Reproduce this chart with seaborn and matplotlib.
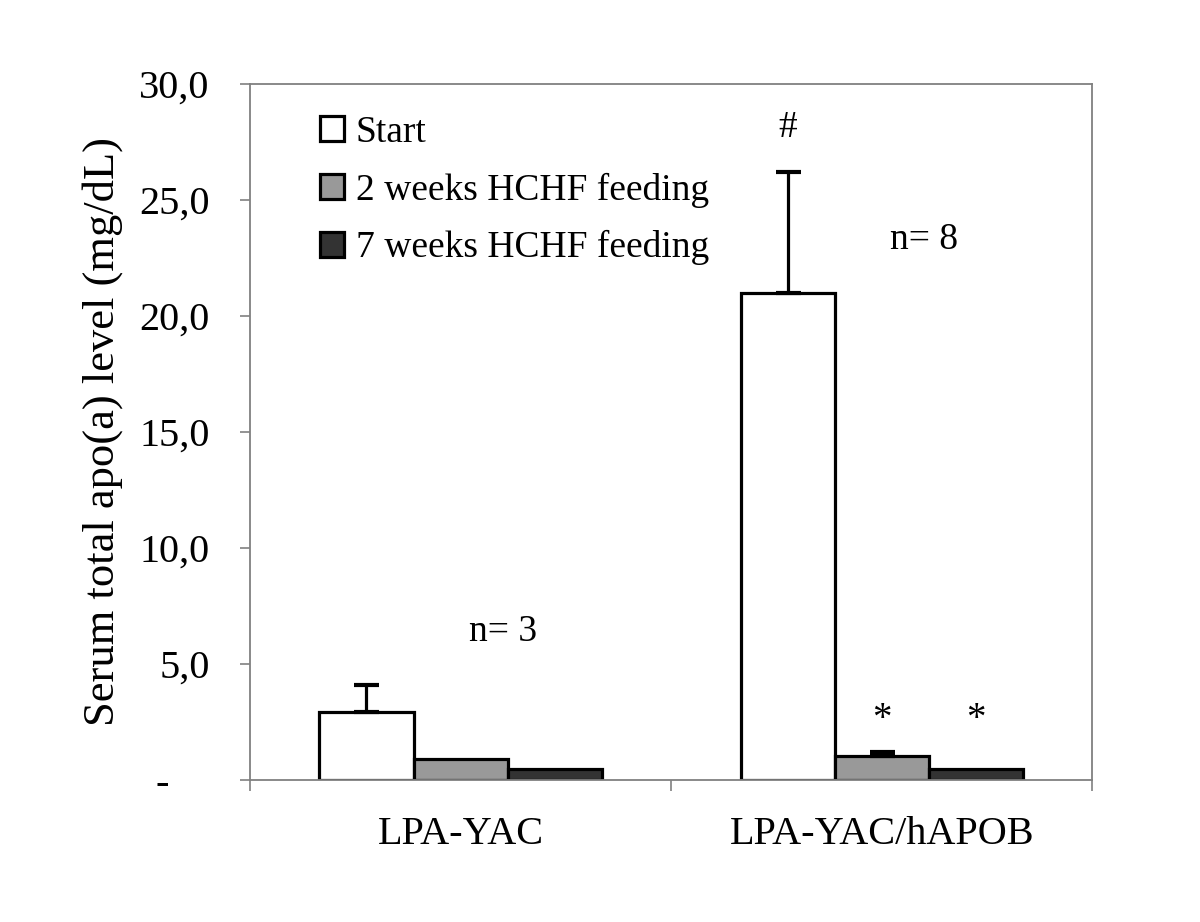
import pandas as pd
import matplotlib
matplotlib.use('Agg')
import matplotlib.pyplot as plt
import seaborn as sns
from matplotlib.ticker import FuncFormatter, FixedLocator

# Data
groups = ['LPA-YAC', 'LPA-YAC/hAPOB']
series = ['Start', '2 weeks HCHF feeding', '7 weeks HCHF feeding']
start_vals = [2.93, 21.0]
week2_vals = [0.90, 1.05]
week7_vals = [0.47, 0.47]
start_err = [1.15, 5.2]
week2_err = [0.0, 0.17]
week7_err = [0.0, 0.0]
n_labels = ['n= 3', 'n= 8']
n_label_y = [6.4, 23.3]
colors = ['#ffffff', '#999999', '#333333']

df = pd.DataFrame({
    'group': groups * 3,
    'series': [s for s in series for _ in groups],
    'value': start_vals + week2_vals + week7_vals,
    'err': start_err + week2_err + week7_err,
})

sns.set_style('white')
plt.rcParams['font.family'] = ['Liberation Serif', 'DejaVu Serif']
plt.rcParams['text.color'] = 'black'
plt.rcParams['axes.labelcolor'] = 'black'
plt.rcParams['xtick.labelcolor'] = 'black'
plt.rcParams['ytick.labelcolor'] = 'black'

fig = plt.figure(figsize=(12, 9.22), dpi=100)
ax = fig.add_axes([0.2083, 0.154, 0.702, 0.755])

sns.barplot(data=df, x='group', y='value', hue='series', order=groups,
            hue_order=series, palette=colors, width=0.67, gap=0,
            edgecolor='black', linewidth=2.3, errorbar=None, ax=ax)

# one-sided error bars on top of each bar
for cont, s in zip(ax.containers, series):
    sub = df[df['series'] == s].set_index('group').loc[groups]
    for patch, v, e in zip(cont.patches, sub['value'], sub['err']):
        if e > 0:
            xc = patch.get_x() + patch.get_width() / 2
            ax.errorbar(xc, v, yerr=[[0], [e]], fmt='none', ecolor='black',
                        elinewidth=2.3, capsize=9, capthick=3, zorder=1)

# significance marks
bars_start = ax.containers[0].patches
bars_w2 = ax.containers[1].patches
bars_w7 = ax.containers[2].patches
b = bars_start[1]
ax.text(b.get_x() + b.get_width() / 2, 28.1, '#', ha='center', va='center', fontsize=27)
for b in (bars_w2[1], bars_w7[1]):
    ax.text(b.get_x() + b.get_width() / 2, 2.6, '*', ha='center', va='center', fontsize=28)
for i, (lab, yy) in enumerate(zip(n_labels, n_label_y)):
    ax.text(i + 0.1, yy, lab, ha='center', va='center', fontsize=27)

ax.set_xlim(-0.5, 1.5)
ax.set_ylim(0, 30)
ax.set_yticks([0, 5, 10, 15, 20, 25, 30])
ax.yaxis.set_major_formatter(FuncFormatter(
    lambda v, p: '-    ' if v == 0 else f'{v:.1f}'.replace('.', ',')))
ax.xaxis.set_minor_locator(FixedLocator([-0.5, 0.5, 1.5]))
ax.tick_params(axis='x', which='major', length=0, pad=26, labelsize=29)
ax.tick_params(axis='x', which='minor', length=8, width=1.2, color='#808080', direction='out', bottom=True)
ax.tick_params(axis='y', which='major', length=7, width=1.2, color='#808080', direction='out',
               left=True, pad=22, labelsize=29)

for sp in ax.spines.values():
    sp.set_color('#808080')
    sp.set_linewidth(1.3)

ax.set_xlabel('')
ax.set_ylabel('Serum total apo(a) level (mg/dL)', fontsize=32, labelpad=12)

leg = ax.legend(loc='upper left', bbox_to_anchor=(0.043, 1.003), frameon=False, fontsize=27,
                handlelength=0.65, handleheight=0.65, handletextpad=0.3, labelspacing=0.6)
for h in leg.legend_handles:
    h.set_linewidth(2.3)
    h.set_edgecolor('black')

fig.savefig('out.png', dpi=100)
